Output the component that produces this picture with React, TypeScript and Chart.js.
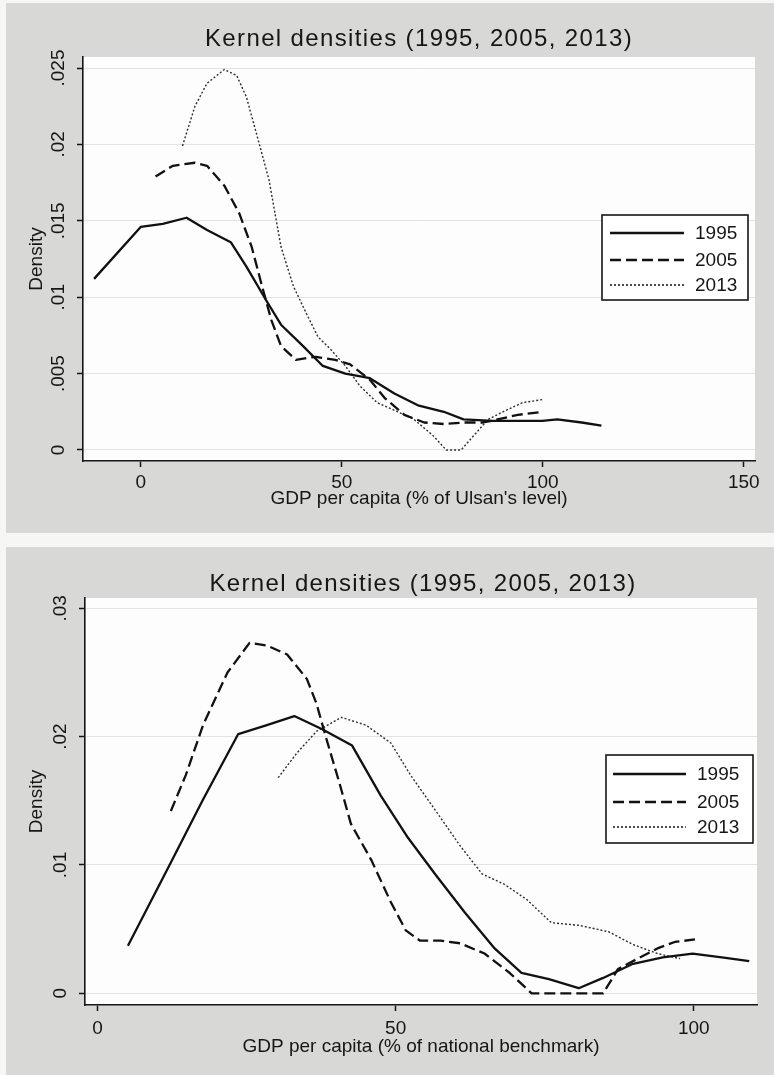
import React, { useEffect, useRef } from "react";
import { Chart, registerables } from "chart.js";

Chart.register(...registerables);

// ---------- data ----------
const SERIES_LABELS = ["1995", "2005", "2013"];

// Panel 1: GDP per capita (% of Ulsan's level)
const U_X_1995 = [-11.6, 0, 5.5, 11.4, 16.5, 22.4, 26.3, 31.2, 34.9, 40.4, 45.3, 50.9, 57, 63.1, 69.2, 75.4, 80.3, 87.6, 93.8, 99.9, 103.6, 109.7, 114.6];
const U_Y_1995 = [0.0112, 0.0146, 0.0148, 0.0152, 0.0144, 0.0136, 0.012, 0.0098, 0.0082, 0.0068, 0.0055, 0.005, 0.0047, 0.0037, 0.0029, 0.0025, 0.002, 0.0019, 0.0019, 0.0019, 0.002, 0.0018, 0.0016];
const U_X_2005 = [3.7, 8, 13.5, 16.5, 20.8, 24.5, 27.6, 30, 32.5, 34.9, 38.6, 43.5, 48.4, 52.1, 57, 60.7, 65.6, 70.5, 75.4, 80.3, 85.2, 88.8, 93.8, 99.9];
const U_Y_2005 = [0.0179, 0.0186, 0.0188, 0.0186, 0.0173, 0.0155, 0.0133, 0.0109, 0.0085, 0.0068, 0.0059, 0.0061, 0.0059, 0.0056, 0.0046, 0.0034, 0.0023, 0.0018, 0.0017, 0.0018, 0.0018, 0.002, 0.0023, 0.0025];
const U_X_2013 = [10.4, 13.5, 16.5, 20.8, 23.9, 26.3, 28.8, 31.9, 34.9, 38, 41.1, 44.1, 47.2, 50.9, 54.5, 58.8, 63.1, 68, 72.9, 76, 79.7, 82.7, 86.4, 90.1, 95, 99.9];
const U_Y_2013 = [0.0199, 0.0225, 0.024, 0.0249, 0.0245, 0.0231, 0.0207, 0.0177, 0.0133, 0.0107, 0.009, 0.0074, 0.0066, 0.0055, 0.0042, 0.0031, 0.0026, 0.002, 0.0009, 0, 0, 0.0009, 0.002, 0.0025, 0.0031, 0.0033];
const U_X_TICKS = [0, 50, 100, 150];
const U_Y_TICKS = [0, 0.005, 0.01, 0.015, 0.02, 0.025];
const U_Y_TICK_LABELS = ["0", ".005", ".01", ".015", ".02", ".025"];

// Panel 2: GDP per capita (% of national benchmark)
const N_X_1995 = [5.1, 12.3, 17.7, 23.6, 28.4, 33, 37.6, 42.7, 47.5, 52.1, 56.6, 61.6, 66.6, 71.1, 75.7, 80.7, 84.8, 89.8, 94.8, 99.8, 104.7, 109.3];
const N_Y_1995 = [0.0037, 0.0102, 0.0151, 0.0202, 0.0209, 0.0216, 0.0206, 0.0193, 0.0154, 0.0121, 0.0093, 0.0063, 0.0035, 0.0016, 0.0011, 0.0004, 0.0012, 0.0023, 0.0028, 0.0031, 0.0028, 0.0025];
const N_X_2005 = [12.3, 14.8, 17.7, 21.8, 25.5, 28.4, 31.8, 35.1, 36.7, 38.4, 40.5, 42.5, 45.9, 49.2, 51.7, 54.1, 57.5, 60.8, 64.9, 69.1, 72.8, 76.5, 80.7, 84.8, 87.3, 90.6, 93.9, 96.8, 100.2];
const N_Y_2005 = [0.0142, 0.017, 0.0209, 0.025, 0.0273, 0.0271, 0.0264, 0.0245, 0.0226, 0.0198, 0.0165, 0.0132, 0.0104, 0.0071, 0.0049, 0.0041, 0.0041, 0.0039, 0.0031, 0.0016, 0, 0, 0, 0, 0.0019, 0.0027, 0.0035, 0.004, 0.0042];
const N_X_2013 = [30.3, 33.4, 36.7, 40.9, 45, 49.2, 52.5, 56.6, 60.8, 64.5, 68.2, 72, 76.1, 80.7, 85.7, 89.8, 93.9, 97.7];
const N_Y_2013 = [0.0168, 0.0187, 0.0204, 0.0215, 0.0209, 0.0195, 0.017, 0.0143, 0.0115, 0.0093, 0.0085, 0.0073, 0.0055, 0.0053, 0.0048, 0.0038, 0.0031, 0.0027];
const N_X_TICKS = [0, 50, 100];
const N_Y_TICKS = [0, 0.01, 0.02, 0.03];
const N_Y_TICK_LABELS = ["0", ".01", ".02", ".03"];

const CHART_TITLE = "Kernel densities (1995, 2005, 2013)";
const Y_TITLE = "Density";
const U_X_TITLE = "GDP per capita (% of Ulsan's level)";
const N_X_TITLE = "GDP per capita (% of national benchmark)";

// ---------- styles ----------
const FONT = '"Liberation Sans", Arial, sans-serif';
const INK = "#161616";
const PAGE_GRAY = "#d8d8d6";
const LINE_STYLES = [
  { color: "#111111", width: 2.3, dash: [] as number[] },
  { color: "#111111", width: 2.3, dash: [11, 5] },
  { color: "#2e2e2e", width: 1.4, dash: [2, 2] },
];

const zip = (xs: number[], ys: number[]) => xs.map((x, i) => ({ x, y: ys[i] }));

const decorPlugin = {
  id: "decor",
  beforeDraw(chart: any) {
    const { ctx, chartArea: a } = chart;
    ctx.save();
    ctx.fillStyle = "#fdfdfd";
    ctx.fillRect(a.left, a.top, a.right - a.left, a.bottom - a.top);
    ctx.restore();
  },
  afterDraw(chart: any, _args: any, opts: any) {
    const ctx = chart.ctx;
    // title
    ctx.save();
    ctx.font = `${opts.titleSize}px ${FONT}`;
    ctx.fillStyle = INK;
    ctx.textAlign = "left";
    ctx.textBaseline = "alphabetic";
    const w0 = ctx.measureText(opts.title).width;
    const n = opts.title.length;
    const ls = (opts.titleWidth - w0) / n;
    (ctx as any).letterSpacing = `${ls}px`;
    ctx.fillText(opts.title, opts.titleX - opts.titleWidth / 2, opts.titleY);
    ctx.restore();

    // legend
    const L = opts.legend;
    ctx.save();
    ctx.fillStyle = "#ffffff";
    ctx.fillRect(L.x, L.y, L.w, L.h);
    ctx.strokeStyle = INK;
    ctx.lineWidth = 1.6;
    ctx.strokeRect(L.x, L.y, L.w, L.h);
    chart.data.datasets.forEach((ds: any, i: number) => {
      const ry = L.rows[i];
      ctx.save();
      ctx.strokeStyle = ds.borderColor;
      ctx.lineWidth = ds.borderWidth + 0.3;
      ctx.setLineDash(ds.borderDash || []);
      ctx.beginPath();
      ctx.moveTo(L.sx0, ry);
      ctx.lineTo(L.sx1, ry);
      ctx.stroke();
      ctx.restore();
      ctx.fillStyle = INK;
      ctx.font = `${L.fontSize}px ${FONT}`;
      ctx.textAlign = "left";
      ctx.textBaseline = "middle";
      ctx.fillText(ds.label, L.tx, ry + 1);
    });
    ctx.restore();
  },
};

function makeConfig(p: any) {
  const datasets = p.series.map((s: any, i: number) => ({
    label: SERIES_LABELS[i],
    data: zip(s[0], s[1]),
    borderColor: LINE_STYLES[i].color,
    borderWidth: LINE_STYLES[i].width,
    borderDash: LINE_STYLES[i].dash,
    borderCapStyle: "butt",
    borderJoinStyle: "round",
    pointRadius: 0,
    tension: 0,
    fill: false,
  }));
  return {
    type: "line",
    data: { datasets },
    plugins: [decorPlugin],
    options: {
      responsive: false,
      devicePixelRatio: 1,
      animation: false,
      layout: { padding: p.padding },
      plugins: {
        legend: { display: false },
        title: { display: false },
        tooltip: { enabled: false },
        decor: p.decor,
      },
      scales: {
        x: {
          type: "linear",
          min: p.xMin,
          max: p.xMax,
          afterBuildTicks: (s: any) => {
            s.ticks = p.xTicks.map((v: number) => ({ value: v }));
          },
          afterFit: (s: any) => {
            s.height = p.xHeight;
          },
          grid: { drawOnChartArea: false, drawTicks: true, tickLength: 6, tickColor: INK, tickWidth: 1.5 },
          border: { display: true, color: INK, width: 1.6 },
          ticks: {
            padding: p.xTickPad,
            color: INK,
            font: { family: FONT, size: 19 },
            maxRotation: 0,
            autoSkip: false,
            callback: (v: number) => String(v),
          },
          title: {
            display: true,
            text: p.xTitle,
            color: INK,
            font: { family: FONT, size: 19 },
            padding: { top: 0, bottom: p.xTitlePad },
          },
        },
        y: {
          type: "linear",
          min: p.yMin,
          max: p.yMax,
          afterBuildTicks: (s: any) => {
            s.ticks = p.yTicks.map((v: number) => ({ value: v }));
          },
          afterFit: (s: any) => {
            s.width = p.yWidth;
          },
          grid: { color: "#e3e3e3", lineWidth: 1, drawTicks: true, tickLength: 6, tickColor: INK, tickWidth: 1.5 },
          border: { display: true, color: INK, width: 1.6 },
          ticks: {
            padding: p.yTickPad,
            crossAlign: "center",
            minRotation: 90,
            maxRotation: 90,
            color: INK,
            font: { family: FONT, size: 19 },
            autoSkip: false,
            callback: (v: number) => {
              const k = p.yTicks.indexOf(v);
              return k >= 0 ? p.yLabels[k] : "";
            },
          },
          title: {
            display: true,
            text: Y_TITLE,
            color: INK,
            font: { family: FONT, size: 19 },
            padding: { top: 25.6, bottom: 0 },
          },
        },
      },
    },
  };
}

const PANEL_U = {
  series: [
    [U_X_1995, U_Y_1995],
    [U_X_2005, U_Y_2005],
    [U_X_2013, U_Y_2013],
  ],
  xMin: -14.35,
  xMax: 152.8,
  yMin: -0.00072,
  yMax: 0.02572,
  xTicks: U_X_TICKS,
  yTicks: U_Y_TICKS,
  yLabels: U_Y_TICK_LABELS,
  xTitle: U_X_TITLE,
  padding: { left: 0, right: 19, top: 57, bottom: 12 },
  xHeight: 60,
  yWidth: 83,
  xTickPad: 4.6,
  xTitlePad: 11,
  yTickPad: 0,
  decor: {
    title: CHART_TITLE,
    titleSize: 24,
    titleWidth: 428,
    titleX: 419,
    titleY: 46,
    legend: { x: 602, y: 215, w: 146, h: 85, rows: [233, 260, 285], sx0: 610, sx1: 684, tx: 695, fontSize: 19 },
  },
};

const PANEL_N = {
  series: [
    [N_X_1995, N_Y_1995],
    [N_X_2005, N_Y_2005],
    [N_X_2013, N_Y_2013],
  ],
  xMin: -2.1,
  xMax: 110.6,
  yMin: -0.00091,
  yMax: 0.0308,
  xTicks: N_X_TICKS,
  yTicks: N_Y_TICKS,
  yLabels: N_Y_TICK_LABELS,
  xTitle: N_X_TITLE,
  padding: { left: 0, right: 17, top: 51, bottom: 10 },
  xHeight: 60,
  yWidth: 85,
  xTickPad: 6.6,
  xTitlePad: 7,
  yTickPad: 4.8,
  decor: {
    title: CHART_TITLE,
    titleSize: 24,
    titleWidth: 427,
    titleX: 423,
    titleY: 44,
    legend: { x: 606, y: 208, w: 147, h: 88, rows: [227, 255, 280], sx0: 613, sx1: 686, tx: 697, fontSize: 19 },
  },
};

function Panel({ cfg, top, height }: { cfg: any; top: number; height: number }) {
  const ref = useRef<HTMLCanvasElement | null>(null);
  useEffect(() => {
    if (!ref.current) return;
    const chart = new Chart(ref.current, makeConfig(cfg) as any);
    return () => chart.destroy();
  }, [cfg]);
  return (
    <canvas
      ref={ref}
      width={774}
      height={height}
      style={{ position: "absolute", left: 0, top, width: 774, height }}
    />
  );
}

export default function App() {
  return (
    <div style={{ position: "absolute", left: 0, top: 0, width: 774, height: 1075, background: "#f6f6f4", overflow: "hidden" }}>
      <div style={{ position: "absolute", left: 6, top: 3, width: 768, height: 530, background: PAGE_GRAY }} />
      <div style={{ position: "absolute", left: 6, top: 547, width: 768, height: 528, background: PAGE_GRAY }} />
      <Panel cfg={PANEL_U} top={0} height={533} />
      <Panel cfg={PANEL_N} top={547} height={528} />
    </div>
  );
}
